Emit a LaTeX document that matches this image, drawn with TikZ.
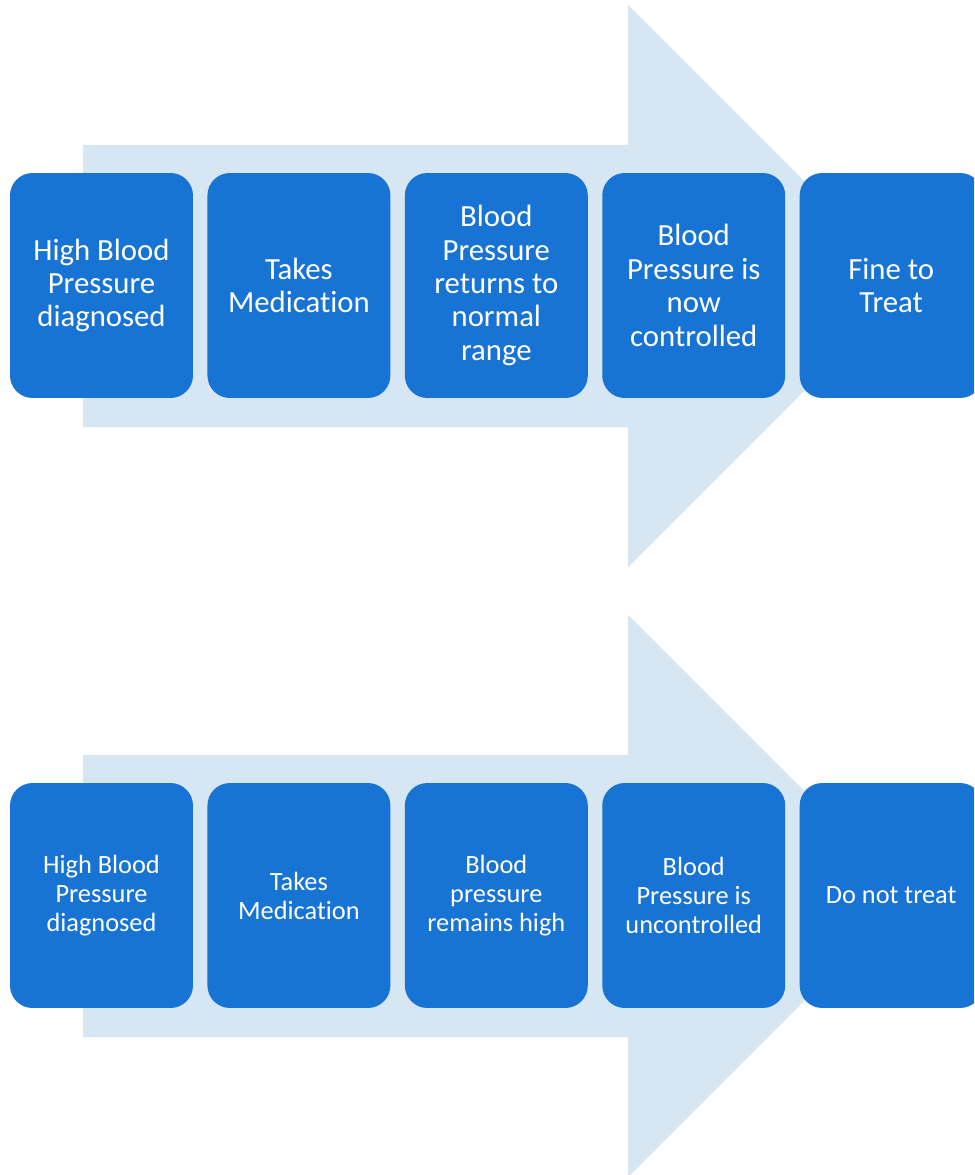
\documentclass[tikz,border=0pt]{standalone}
\usepackage{xcolor}
\usepackage{fontspec}
\setmainfont{Carlito}[Ligatures=NoCommon]
\usepackage{tikz}
\usetikzlibrary{positioning}
\definecolor{boxblue}{RGB}{24,116,212}
\definecolor{arrowblue}{RGB}{214,230,242}

\begin{document}
\begin{tikzpicture}[x=0.02cm,y=-0.02cm,node distance=0.275cm,
    stage node/.style={rectangle,rounded corners=0.45cm,fill=boxblue,text=white,minimum width=3.66cm,minimum height=4.5cm,inner sep=1pt,align=center},
    big node/.style={stage node,font=\fontsize{17.5}{19}\selectfont},
    small node/.style={stage node,font=\fontsize{15}{16.5}\selectfont}]
    \clip (0,0) rectangle (974,1175);
    \fill[white] (0,0) rectangle (974,1175);

    % top row
    \fill[arrowblue] (83,145) -- (628,145) -- (628,5) -- (909,286) -- (628,567) -- (628,427) -- (83,427) -- cycle;
    \node[big node] (0) at (101.5,285.5) {High Blood\\Pressure\\diagnosed};
    \node[big node] (1) [right=of 0] {Takes\\Medication};
    \node[big node] (2) [right=of 1] {Blood\\Pressure\\returns to\\normal\\range};
    \node[big node] (3) [right=of 2] {Blood\\Pressure is\\now\\controlled};
    \node[big node] (4) [right=of 3] {Fine to\\Treat};

    % bottom row
    \fill[arrowblue] (83,755) -- (628,755) -- (628,615) -- (909,896) -- (628,1177) -- (628,1037) -- (83,1037) -- cycle;
    \node[small node] (5) at (101.5,895.5) {High Blood\\Pressure\\diagnosed};
    \node[small node] (6) [right=of 5] {Takes\\Medication};
    \node[small node] (7) [right=of 6] {Blood\\pressure\\remains high};
    \node[small node] (8) [right=of 7] {Blood\\Pressure is\\uncontrolled};
    \node[small node] (9) [right=of 8] {Do not treat};
\end{tikzpicture}
\end{document}
